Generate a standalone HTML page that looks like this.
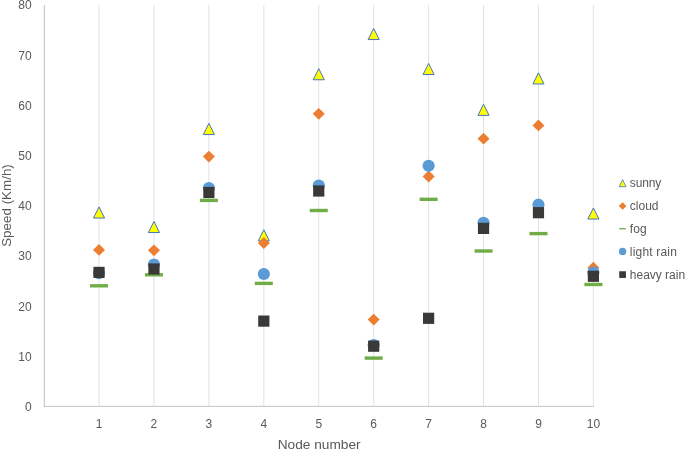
<!DOCTYPE html>
<html><head><meta charset="utf-8"><title>Speed vs Node number</title>
<style>html,body{margin:0;padding:0;background:#fff;}svg{display:block;}text{font-family:"Liberation Sans",sans-serif;fill:#595959;}</style>
</head><body>
<svg width="685" height="449" viewBox="0 0 685 449">
<rect width="685" height="449" fill="#ffffff"/>
<line x1="99.03" y1="5" x2="99.03" y2="406.10" stroke="#E2E2E2" stroke-width="1"/>
<line x1="153.96" y1="5" x2="153.96" y2="406.10" stroke="#E2E2E2" stroke-width="1"/>
<line x1="208.89" y1="5" x2="208.89" y2="406.10" stroke="#E2E2E2" stroke-width="1"/>
<line x1="263.82" y1="5" x2="263.82" y2="406.10" stroke="#E2E2E2" stroke-width="1"/>
<line x1="318.75" y1="5" x2="318.75" y2="406.10" stroke="#E2E2E2" stroke-width="1"/>
<line x1="373.68" y1="5" x2="373.68" y2="406.10" stroke="#E2E2E2" stroke-width="1"/>
<line x1="428.61" y1="5" x2="428.61" y2="406.10" stroke="#E2E2E2" stroke-width="1"/>
<line x1="483.54" y1="5" x2="483.54" y2="406.10" stroke="#E2E2E2" stroke-width="1"/>
<line x1="538.47" y1="5" x2="538.47" y2="406.10" stroke="#E2E2E2" stroke-width="1"/>
<line x1="593.40" y1="5" x2="593.40" y2="406.10" stroke="#E2E2E2" stroke-width="1"/>
<line x1="44.30" y1="5" x2="44.30" y2="406.80" stroke="#BFBFBF" stroke-width="1"/>
<line x1="43.80" y1="406.35" x2="593.90" y2="406.35" stroke="#C4C4C4" stroke-width="1"/>
<text x="31.6" y="410.90" font-size="12" text-anchor="end">0</text>
<text x="31.6" y="360.71" font-size="12" text-anchor="end">10</text>
<text x="31.6" y="310.52" font-size="12" text-anchor="end">20</text>
<text x="31.6" y="260.33" font-size="12" text-anchor="end">30</text>
<text x="31.6" y="210.14" font-size="12" text-anchor="end">40</text>
<text x="31.6" y="159.95" font-size="12" text-anchor="end">50</text>
<text x="31.6" y="109.76" font-size="12" text-anchor="end">60</text>
<text x="31.6" y="59.57" font-size="12" text-anchor="end">70</text>
<text x="31.6" y="9.38" font-size="12" text-anchor="end">80</text>
<text x="99.03" y="427.5" font-size="12" text-anchor="middle">1</text>
<text x="153.96" y="427.5" font-size="12" text-anchor="middle">2</text>
<text x="208.89" y="427.5" font-size="12" text-anchor="middle">3</text>
<text x="263.82" y="427.5" font-size="12" text-anchor="middle">4</text>
<text x="318.75" y="427.5" font-size="12" text-anchor="middle">5</text>
<text x="373.68" y="427.5" font-size="12" text-anchor="middle">6</text>
<text x="428.61" y="427.5" font-size="12" text-anchor="middle">7</text>
<text x="483.54" y="427.5" font-size="12" text-anchor="middle">8</text>
<text x="538.47" y="427.5" font-size="12" text-anchor="middle">9</text>
<text x="593.40" y="427.5" font-size="12" text-anchor="middle">10</text>
<text x="319.2" y="448.6" font-size="13.7" text-anchor="middle">Node number</text>
<text transform="translate(11,205.5) rotate(-90)" font-size="13.4" text-anchor="middle">Speed (Km/h)</text>
<path d="M99.03 206.95 L104.58 218.05 L93.48 218.05 Z" fill="#FFFF00" stroke="#4472C4" stroke-width="1.00" stroke-linejoin="miter"/>
<path d="M153.96 221.45 L159.51 232.55 L148.41 232.55 Z" fill="#FFFF00" stroke="#4472C4" stroke-width="1.00" stroke-linejoin="miter"/>
<path d="M208.89 123.45 L214.44 134.55 L203.34 134.55 Z" fill="#FFFF00" stroke="#4472C4" stroke-width="1.00" stroke-linejoin="miter"/>
<path d="M263.82 229.75 L269.37 240.85 L258.27 240.85 Z" fill="#FFFF00" stroke="#4472C4" stroke-width="1.00" stroke-linejoin="miter"/>
<path d="M318.75 68.65 L324.30 79.75 L313.20 79.75 Z" fill="#FFFF00" stroke="#4472C4" stroke-width="1.00" stroke-linejoin="miter"/>
<path d="M373.68 28.45 L379.23 39.55 L368.13 39.55 Z" fill="#FFFF00" stroke="#4472C4" stroke-width="1.00" stroke-linejoin="miter"/>
<path d="M428.61 63.45 L434.16 74.55 L423.06 74.55 Z" fill="#FFFF00" stroke="#4472C4" stroke-width="1.00" stroke-linejoin="miter"/>
<path d="M483.54 104.25 L489.09 115.35 L477.99 115.35 Z" fill="#FFFF00" stroke="#4472C4" stroke-width="1.00" stroke-linejoin="miter"/>
<path d="M538.47 72.85 L544.02 83.95 L532.92 83.95 Z" fill="#FFFF00" stroke="#4472C4" stroke-width="1.00" stroke-linejoin="miter"/>
<path d="M593.40 207.95 L598.95 219.05 L587.85 219.05 Z" fill="#FFFF00" stroke="#4472C4" stroke-width="1.00" stroke-linejoin="miter"/>
<path d="M99.03 244.00 L105.03 249.90 L99.03 255.80 L93.03 249.90 Z" fill="#ED7D31"/>
<path d="M153.96 244.40 L159.96 250.30 L153.96 256.20 L147.96 250.30 Z" fill="#ED7D31"/>
<path d="M208.89 150.70 L214.89 156.60 L208.89 162.50 L202.89 156.60 Z" fill="#ED7D31"/>
<path d="M263.82 237.10 L269.82 243.00 L263.82 248.90 L257.82 243.00 Z" fill="#ED7D31"/>
<path d="M318.75 107.90 L324.75 113.80 L318.75 119.70 L312.75 113.80 Z" fill="#ED7D31"/>
<path d="M373.68 313.70 L379.68 319.60 L373.68 325.50 L367.68 319.60 Z" fill="#ED7D31"/>
<path d="M428.61 170.60 L434.61 176.50 L428.61 182.40 L422.61 176.50 Z" fill="#ED7D31"/>
<path d="M483.54 132.80 L489.54 138.70 L483.54 144.60 L477.54 138.70 Z" fill="#ED7D31"/>
<path d="M538.47 119.50 L544.47 125.40 L538.47 131.30 L532.47 125.40 Z" fill="#ED7D31"/>
<path d="M593.40 261.80 L599.40 267.70 L593.40 273.60 L587.40 267.70 Z" fill="#ED7D31"/>
<rect x="90.03" y="284.10" width="18.00" height="3.40" fill="#70AD47"/>
<rect x="144.96" y="273.10" width="18.00" height="3.40" fill="#70AD47"/>
<rect x="199.89" y="198.70" width="18.00" height="3.40" fill="#70AD47"/>
<rect x="254.82" y="281.70" width="18.00" height="3.40" fill="#70AD47"/>
<rect x="309.75" y="208.80" width="18.00" height="3.40" fill="#70AD47"/>
<rect x="364.68" y="356.40" width="18.00" height="3.40" fill="#70AD47"/>
<rect x="419.61" y="197.60" width="18.00" height="3.40" fill="#70AD47"/>
<rect x="474.54" y="249.30" width="18.00" height="3.40" fill="#70AD47"/>
<rect x="529.47" y="231.90" width="18.00" height="3.40" fill="#70AD47"/>
<rect x="584.40" y="282.80" width="18.00" height="3.40" fill="#70AD47"/>
<circle cx="99.03" cy="273.10" r="6.10" fill="#5B9BD5"/>
<circle cx="153.96" cy="264.60" r="6.10" fill="#5B9BD5"/>
<circle cx="208.89" cy="188.00" r="6.10" fill="#5B9BD5"/>
<circle cx="263.82" cy="274.00" r="6.10" fill="#5B9BD5"/>
<circle cx="318.75" cy="185.50" r="6.10" fill="#5B9BD5"/>
<circle cx="373.68" cy="345.00" r="6.10" fill="#5B9BD5"/>
<circle cx="428.61" cy="165.80" r="6.10" fill="#5B9BD5"/>
<circle cx="483.54" cy="222.80" r="6.10" fill="#5B9BD5"/>
<circle cx="538.47" cy="204.70" r="6.10" fill="#5B9BD5"/>
<circle cx="593.40" cy="272.50" r="6.10" fill="#5B9BD5"/>
<rect x="93.43" y="266.80" width="11.20" height="11.20" fill="#3B3838"/>
<rect x="148.36" y="263.40" width="11.20" height="11.20" fill="#3B3838"/>
<rect x="203.29" y="186.90" width="11.20" height="11.20" fill="#3B3838"/>
<rect x="258.22" y="315.50" width="11.20" height="11.20" fill="#3B3838"/>
<rect x="313.15" y="185.40" width="11.20" height="11.20" fill="#3B3838"/>
<rect x="368.08" y="340.60" width="11.20" height="11.20" fill="#3B3838"/>
<rect x="423.01" y="312.70" width="11.20" height="11.20" fill="#3B3838"/>
<rect x="477.94" y="222.80" width="11.20" height="11.20" fill="#3B3838"/>
<rect x="532.87" y="207.10" width="11.20" height="11.20" fill="#3B3838"/>
<rect x="587.80" y="270.70" width="11.20" height="11.20" fill="#3B3838"/>
<path d="M622.60 179.70 L626.00 186.70 L619.20 186.70 Z" fill="#FFFF00" stroke="#4472C4" stroke-width="0.80" stroke-linejoin="miter"/>
<path d="M622.60 202.20 L626.40 206.00 L622.60 209.80 L618.80 206.00 Z" fill="#ED7D31"/>
<rect x="619.2" y="228.1" width="6.6" height="1.3" fill="#70AD47"/>
<circle cx="622.60" cy="251.40" r="3.65" fill="#5B9BD5"/>
<rect x="619.25" y="271.25" width="6.70" height="6.70" fill="#3B3838"/>
<text x="629.8" y="187.10" font-size="12" textLength="31.4" lengthAdjust="spacing">sunny</text>
<text x="629.8" y="209.70" font-size="12" textLength="28.7" lengthAdjust="spacing">cloud</text>
<text x="629.8" y="232.90" font-size="12" textLength="16.8" lengthAdjust="spacing">fog</text>
<text x="629.8" y="255.60" font-size="12" textLength="47.1" lengthAdjust="spacing">light rain</text>
<text x="629.8" y="278.50" font-size="12" textLength="55.3" lengthAdjust="spacing">heavy rain</text>
</svg></body></html>
